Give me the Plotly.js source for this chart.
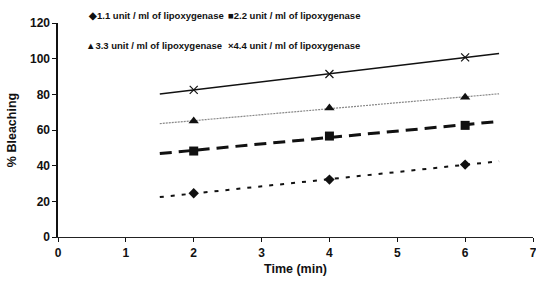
<!DOCTYPE html>
<html><head><meta charset="utf-8">
<script src="https://cdn.plot.ly/plotly-3.0.1.min.js"></script>
<style>html,body{margin:0;padding:0;background:#fff;}#chart{width:536px;height:284px;}</style>
</head><body><div id="chart"></div>
<script>
const times = [2, 4, 6];
const series1 = [24.5, 32.2, 40.6];
const series2 = [48.2, 56.6, 62.6];
const series3 = [65.0, 72.4, 78.4];
const series4 = [82.5, 91.4, 100.7];
const seriesNames = [
  "1.1 unit / ml of lipoxygenase",
  "2.2 unit / ml of lipoxygenase",
  "3.3 unit / ml of lipoxygenase",
  "4.4 unit / ml of lipoxygenase"
];
const legendSymbols = ["\u25C6", "\u25A0", "\u25B2", "\u00D7"];
const xTicks = [0, 1, 2, 3, 4, 5, 6, 7];
const yTicks = [0, 20, 40, 60, 80, 100, 120];
const trendExtend = 0.5;

const allSeries = [series1, series2, series3, series4];
const FONT = "Liberation Sans, Arial, sans-serif";
const markerStyles = [
  {symbol: "diamond", size: 8, color: "#111"},
  {symbol: "square", size: 9, color: "#111"},
  {symbol: "triangle-up", size: 9, color: "#111"},
  {symbol: "x-thin-open", size: 8, color: "#111", line: {width: 1.2, color: "#111"}}
];
const lineStyles = [
  {color: "#111", width: 2, dash: "4px,7px"},
  {color: "#111", width: 3, dash: "12px,7px"},
  {color: "#888", width: 1.2, dash: "2px,1px"},
  {color: "#111", width: 1.5, dash: "solid"}
];

function fit(xs, ys) {
  const n = xs.length;
  const mx = xs.reduce((a, b) => a + b, 0) / n;
  const my = ys.reduce((a, b) => a + b, 0) / n;
  let sxy = 0, sxx = 0;
  for (let i = 0; i < n; i++) { sxy += (xs[i] - mx) * (ys[i] - my); sxx += (xs[i] - mx) ** 2; }
  const m = sxy / sxx;
  return {m: m, b: my - m * mx};
}

const traces = [];
allSeries.forEach((ys, i) => {
  const f = fit(times, ys);
  const x0 = Math.min(...times) - trendExtend, x1 = Math.max(...times) + trendExtend;
  traces.push({x: [x0, x1], y: [f.m * x0 + f.b, f.m * x1 + f.b], mode: "lines",
    line: lineStyles[i], showlegend: false, hoverinfo: "skip"});
});
allSeries.forEach((ys, i) => {
  traces.push({x: times, y: ys, mode: "markers", name: seriesNames[i],
    marker: markerStyles[i], showlegend: false});
});

const legendPos = [[86, 15], [226, 15], [84, 46], [226, 46]];
const annotations = seriesNames.map((n, i) => ({
  xref: "paper", yref: "paper",
  x: (legendPos[i][0] - 58) / 475, y: 1 - (legendPos[i][1] - 23) / 214,
  xanchor: "left", yanchor: "middle", showarrow: false,
  text: "<b>" + legendSymbols[i] + n + "</b>",
  font: {family: FONT, size: 9.5, color: "#111"}
}));

const layout = {
  width: 536, height: 284,
  margin: {l: 58, r: 3, t: 23, b: 47},
  paper_bgcolor: "#fff", plot_bgcolor: "#fff",
  showlegend: false,
  xaxis: {range: [0, 7], tickmode: "array", tickvals: xTicks,
    ticktext: xTicks.map(v => "<b>" + v + "</b>"),
    showgrid: false, zeroline: false,
    showline: true, linecolor: "#222", linewidth: 1.2,
    ticks: "outside", ticklen: 4, tickcolor: "#111",
    ticklabeloverflow: "allow",
    tickfont: {family: FONT, size: 12, color: "#111"},
    title: {text: "<b>Time (min)</b>", standoff: 5,
      font: {family: FONT, size: 12.5, color: "#111"}}},
  yaxis: {range: [0, 120], tickmode: "array", tickvals: yTicks,
    ticktext: yTicks.map(v => "<b>" + v + "</b>"),
    showgrid: false, zeroline: false,
    showline: true, linecolor: "#111", linewidth: 1.6,
    ticks: "outside", ticklen: 4, tickcolor: "#111",
    tickfont: {family: FONT, size: 12, color: "#111"},
    title: {text: "<b>% Bleaching</b>", standoff: 10,
      font: {family: FONT, size: 12.5, color: "#111"}}},
  annotations: annotations
};

Plotly.newPlot("chart", traces, layout, {displayModeBar: false, staticPlot: true});
</script></body></html>
